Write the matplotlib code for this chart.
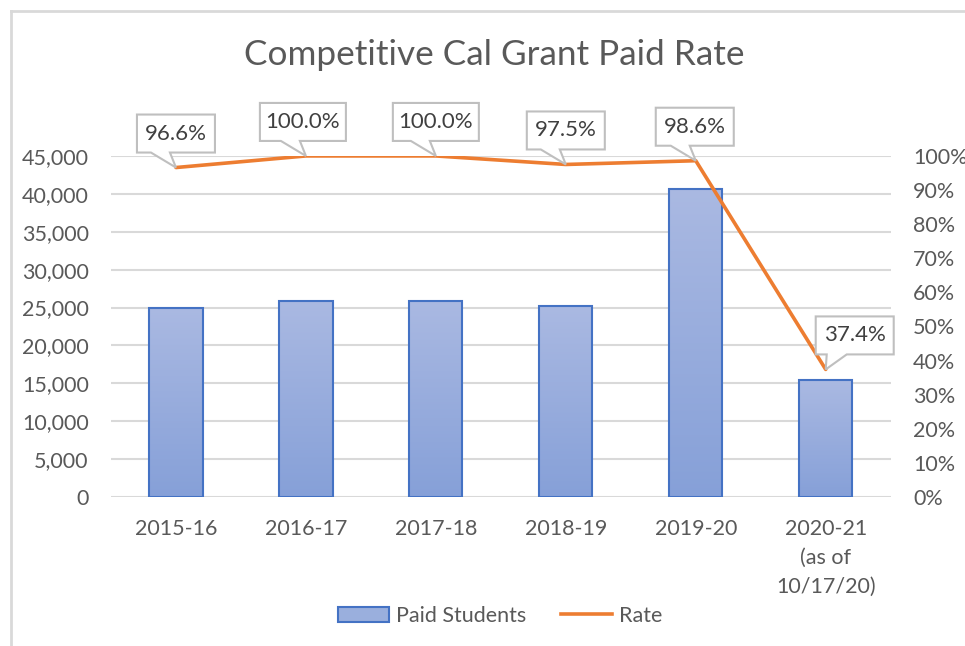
#!/usr/bin/env python3
import matplotlib as mpl
mpl.use('Agg')
import matplotlib.pyplot as plt
import matplotlib.transforms as mtransforms
from matplotlib.patches import Polygon
from matplotlib.lines import Line2D
from matplotlib.ticker import FuncFormatter, MultipleLocator
import numpy as np

# data
years = ['2015-16', '2016-17', '2017-18', '2018-19', '2019-20',
         '2020-21\n(as of\n10/17/20)']
paid_students = [25000, 25900, 25900, 25200, 40600, 15400]
paid_rate = [0.966, 1.0, 1.0, 0.975, 0.986, 0.374]
rate_labels = ['96.6%', '100.0%', '100.0%', '97.5%', '98.6%', '37.4%']

# callout placement in pixels (box centre x offset, half width, pointer base)
box_dx = [0, -3, 0, 0, -1, 29]
box_half = [39, 43, 43, 39, 39, 39]
ptr_base = [(-25, -6)] * 5 + [(1, 21)]

TXT = '#595959'
GRID = '#d9d9d9'
plt.rcParams['font.family'] = ['Lato', 'DejaVu Sans']

fig = plt.figure(figsize=(9.65, 6.46), dpi=100)
ax1 = fig.add_axes([0.115, 0.2307, 0.808, 0.5279])
ax2 = ax1.twinx()

x = np.arange(len(years))
bars = ax1.bar(x, paid_students, width=0.41, color='none',
               edgecolor='#4472c4', linewidth=1.5, zorder=3)

# vertical gradient inside each bar
grad = np.linspace(0, 1, 256).reshape(-1, 1)
cmap = mpl.colors.LinearSegmentedColormap.from_list(
    'bar', ['#86a0d8', '#aab9e2'])
for b in bars:
    bx, bw, bh = b.get_x(), b.get_width(), b.get_height()
    im = ax1.imshow(grad, extent=[bx, bx + bw, 0, bh], origin='lower',
                    aspect='auto', cmap=cmap, zorder=2)
    im.set_clip_path(b)

ax1.set_xlim(-0.5, len(years) - 0.5)
ax1.set_ylim(0, 45000)
ax1.yaxis.set_major_locator(MultipleLocator(5000))
ax1.yaxis.set_major_formatter(FuncFormatter(lambda v, p: f'{v:,.0f}'))
ax1.set_xticks(x)
ax1.set_xticklabels(years, linespacing=1.55)
ax1.grid(axis='y', color=GRID, linewidth=1.5, zorder=0)
ax1.set_axisbelow(True)

ax2.plot(x, paid_rate, color='#ed7d31', linewidth=2.6, zorder=4,
         solid_capstyle='round')
ax2.set_ylim(0, 1)
ax2.yaxis.set_major_locator(MultipleLocator(0.1))
ax2.yaxis.set_major_formatter(FuncFormatter(lambda v, p: f'{v * 100:.0f}%'))

for ax in (ax1, ax2):
    for s in ax.spines.values():
        s.set_visible(False)
    ax.tick_params(length=0, labelsize=15.5, labelcolor=TXT)
ax1.tick_params(axis='y', pad=16)
ax1.tick_params(axis='x', pad=16)
ax2.tick_params(axis='y', pad=16)

# callouts
bottom, top = 15, 53
for i, (rv, lab) in enumerate(zip(paid_rate, rate_labels)):
    tr = fig.dpi_scale_trans + mtransforms.ScaledTranslation(
        x[i], rv, ax2.transData)
    c, half = box_dx[i], box_half[i]
    p1, p2 = ptr_base[i]
    verts = np.array([(c - half, bottom), (p1, bottom), (0, 0),
                      (p2, bottom), (c + half, bottom), (c + half, top),
                      (c - half, top)]) / fig.dpi
    ax2.add_patch(Polygon(verts, closed=True, transform=tr,
                          facecolor='white', edgecolor='#bfbfbf',
                          linewidth=1.5, zorder=5, clip_on=False))
    ax2.annotate(lab, xy=(x[i], rv), xytext=(c * 0.72, (bottom + top) / 2 * 0.72),
                 textcoords='offset points', ha='center', va='center',
                 fontsize=16, color='#404040', zorder=6,
                 annotation_clip=False)

fig.text(0.512, 0.915, 'Competitive Cal Grant Paid Rate', ha='center',
         va='center', fontsize=25.3, color=TXT)

handles = [mpl.patches.Patch(facecolor='#9aafdd', edgecolor='#4472c4',
                             linewidth=1.5),
           Line2D([0], [0], color='#ed7d31', linewidth=2.6)]
fig.legend(handles, ['Paid Students', 'Rate'], loc='center',
           bbox_to_anchor=(0.518, 0.047), ncol=2, frameon=False,
           fontsize=15.5, labelcolor=TXT, handlelength=2.4,
           handletextpad=0.3, columnspacing=1.6)

# chart frame edges visible in the crop
fig.add_artist(Line2D([0.0109, 0.0109], [0, 0.983], transform=fig.transFigure,
                      color=GRID, linewidth=2))
fig.add_artist(Line2D([0.0109, 1], [0.983, 0.983], transform=fig.transFigure,
                      color=GRID, linewidth=2))

fig.savefig('out.png', dpi=100)
plt.close(fig)
